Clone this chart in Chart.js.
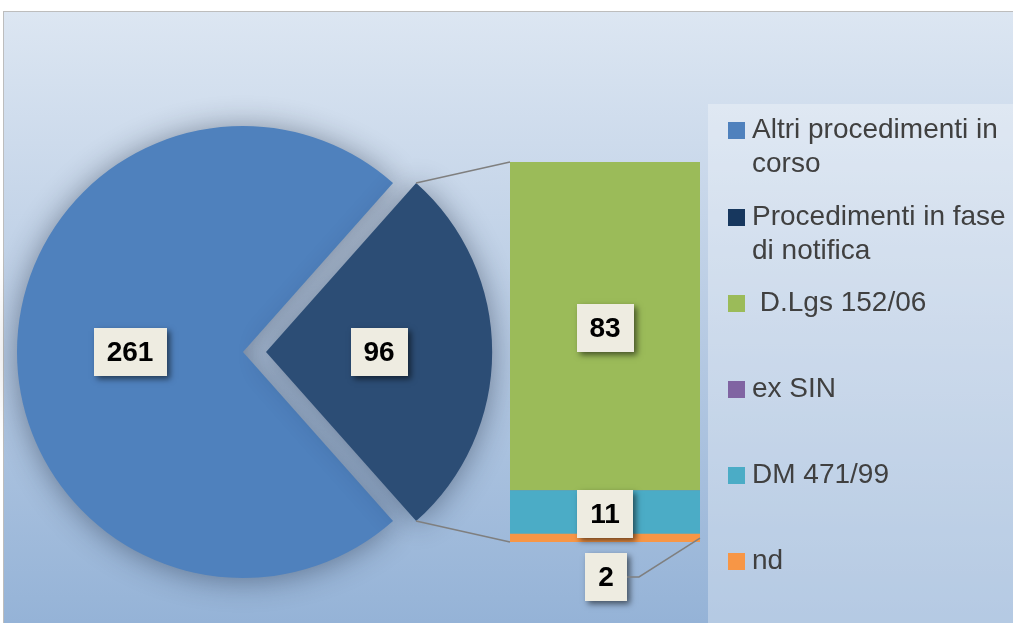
<!DOCTYPE html>
<html>
<head>
<meta charset="utf-8">
<script src="https://cdn.jsdelivr.net/npm/chart.js@4.4.1/dist/chart.umd.min.js"></script>
<style>
  html, body { margin: 0; padding: 0; background: #ffffff; }
  #wrap { position: relative; width: 1013px; height: 623px; overflow: hidden; }
  #frame { position: absolute; left: 3px; top: 11px; right: 0; bottom: 0;
           border-left: 1px solid #BDBDBD; border-top: 1px solid #BDBDBD;
           background: linear-gradient(to bottom, #DCE6F2 0%, #B9CCE4 50%, #95B3D7 100%); }
  #legendBox { position: absolute; left: 708px; top: 104px; right: 0; bottom: 0;
               background: rgba(255,255,255,0.3); }
  canvas { position: absolute; left: 0; top: 0; }
  .item { position: absolute; left: 728px; width: 284px;
          font-family: "Liberation Sans", Arial, sans-serif; font-size: 28px; line-height: 34px; color: #404040; }
  .sq { position: absolute; left: 0; top: 10px; width: 17px; height: 17px; }
  .txt { position: absolute; left: 24px; top: 0; width: 258px; white-space: pre-wrap; }
</style>
</head>
<body>
<div id="wrap">
  <div id="frame"></div>
  <div id="legendBox"></div>
  <canvas id="pie" width="1013" height="623"></canvas>
  <canvas id="bar" width="1013" height="623"></canvas>
  <div id="legend"></div>
</div>
<script>
// ---- data ----
const pieLabels = ['Altri procedimenti in corso', 'Procedimenti in fase di notifica'];
const pieValues = [261, 96];
const pieColors = ['#4F81BD', '#2C4D75'];
const pieLegendColors = ['#4F81BD', '#17375E'];

const barLabels = [' D.Lgs 152/06', 'ex SIN', 'DM 471/99', 'nd'];
const barValues = [83, 0, 11, 2];
const barColors = ['#9BBB59', '#8064A2', '#4BACC6', '#F79646'];

// ---- geometry / style ----
const PIE_R = 226, PIE_CX = 243, PIE_CY = 352, DARK_SHIFT = 23;
const BAR_L = 510, BAR_R = 700, BAR_T = 162, BAR_B = 542;
const W = 1013, H = 623;

const pieTotal = pieValues.reduce((a, b) => a + b, 0);
const darkSpanDeg = pieValues[1] / pieTotal * 360;
// second slice centred on 3 o'clock
const rotationDeg = 90 - (360 - darkSpanDeg / 2);

const pieChart = new Chart(document.getElementById('pie'), {
  type: 'pie',
  data: {
    labels: pieLabels,
    datasets: [{
      data: pieValues,
      backgroundColor: pieColors,
      borderWidth: 0,
      offset: [0, DARK_SHIFT * 4],
      hoverOffset: 0
    }]
  },
  options: {
    responsive: false, animation: false, events: [],
    rotation: rotationDeg,
    radius: PIE_R,
    layout: { padding: { left: PIE_CX - 243, right: W - 2 * PIE_CX, top: 100, bottom: H - (2 * PIE_CY - 100) } },
    plugins: { legend: { display: false }, tooltip: { enabled: false } }
  },
  plugins: [{
    id: 'pieShadow',
    beforeDatasetsDraw(chart) {
      const ctx = chart.ctx;
      ctx.save();
      ctx.shadowColor = 'rgba(20,30,50,0.45)';
      ctx.shadowBlur = 30;
      ctx.shadowOffsetY = 2;
    },
    afterDatasetsDraw(chart) { chart.ctx.restore(); }
  }]
});

// bar stacks bottom-up, so reverse legend order
const stackOrder = barValues.map((v, i) => i).reverse();
const barTotal = barValues.reduce((a, b) => a + b, 0);

function labelBox(ctx, text, cx, cy) {
  ctx.save();
  ctx.font = 'bold 28px "Liberation Sans", Arial, sans-serif';
  const tw = ctx.measureText(text).width;
  const w = Math.round(tw + 26), h = 48;
  const x = Math.round(cx - w / 2), y = Math.round(cy - h / 2);
  ctx.shadowColor = 'rgba(0,0,0,0.55)';
  ctx.shadowBlur = 6;
  ctx.shadowOffsetX = 3;
  ctx.shadowOffsetY = 3;
  ctx.fillStyle = '#EEECE1';
  ctx.fillRect(x, y, w, h);
  ctx.shadowColor = 'transparent';
  ctx.fillStyle = '#000000';
  ctx.textAlign = 'center';
  ctx.textBaseline = 'middle';
  ctx.fillText(text, cx, cy + 1);
  ctx.restore();
  return { x, y, w, h };
}

const barChart = new Chart(document.getElementById('bar'), {
  type: 'bar',
  data: {
    labels: ['dettaglio'],
    datasets: stackOrder.map(i => ({
      label: barLabels[i],
      data: [barValues[i]],
      backgroundColor: barColors[i],
      borderWidth: 0,
      barPercentage: 1,
      categoryPercentage: 1
    }))
  },
  options: {
    responsive: false, animation: false, events: [],
    layout: { padding: { left: BAR_L, right: W - BAR_R, top: BAR_T, bottom: H - BAR_B } },
    scales: {
      x: { stacked: true, display: false },
      y: { stacked: true, display: false, min: 0, max: barTotal }
    },
    plugins: { legend: { display: false }, tooltip: { enabled: false } }
  },
  plugins: [{
    id: 'connectorsAndLabels',
    beforeDatasetsDraw(chart) {
      const ctx = chart.ctx;
      const arc = pieChart.getDatasetMeta(0).data[1];
      const shift = (arc.options.offset || 0) / 4;
      const mid = (arc.startAngle + arc.endAngle) / 2;
      const ox = arc.x + Math.cos(mid) * shift, oy = arc.y + Math.sin(mid) * shift;
      const r = arc.outerRadius;
      const pA = [ox + Math.cos(arc.endAngle) * r, oy + Math.sin(arc.endAngle) * r];
      const pB = [ox + Math.cos(arc.startAngle) * r, oy + Math.sin(arc.startAngle) * r];
      const top = pA[1] < pB[1] ? pA : pB, bot = pA[1] < pB[1] ? pB : pA;
      const area = chart.chartArea;
      ctx.save();
      ctx.strokeStyle = '#7F7F7F';
      ctx.lineWidth = 1.5;
      ctx.beginPath();
      ctx.moveTo(top[0], top[1]); ctx.lineTo(area.left, area.top);
      ctx.moveTo(bot[0], bot[1]); ctx.lineTo(area.left, area.bottom);
      ctx.stroke();
      ctx.restore();
    },
    afterDatasetsDraw(chart) {
      const ctx = chart.ctx;
      // pie labels
      pieChart.getDatasetMeta(0).data.forEach((arc, i) => {
        const shift = (arc.options.offset || 0) / 4;
        const mid = (arc.startAngle + arc.endAngle) / 2;
        const d = shift + arc.outerRadius * 0.5;
        labelBox(ctx, String(pieValues[i]), arc.x + Math.cos(mid) * d, arc.y + Math.sin(mid) * d);
      });
      // bar labels
      chart.data.datasets.forEach((ds, di) => {
        const v = ds.data[0];
        if (!v) return;
        const el = chart.getDatasetMeta(di).data[0];
        const segTop = Math.min(el.y, el.base), segBot = Math.max(el.y, el.base);
        if (segBot - segTop >= 30) {
          labelBox(ctx, String(v), el.x, (segTop + segBot) / 2 + 2);
        } else {
          const b = labelBox(ctx, String(v), el.x + 1, segBot + 35);
          const rx = el.x + el.width / 2;
          ctx.save();
          ctx.strokeStyle = '#7F7F7F';
          ctx.lineWidth = 1.5;
          ctx.beginPath();
          ctx.moveTo(b.x + b.w, b.y + b.h / 2);
          ctx.lineTo(b.x + b.w + 12, b.y + b.h / 2);
          ctx.lineTo(rx, (segTop + segBot) / 2);
          ctx.stroke();
          ctx.restore();
        }
      });
    }
  }]
});

// ---- legend (HTML text) ----
const legendItems = pieLabels.map((t, i) => ({ text: t, color: pieLegendColors[i] }))
  .concat(barLabels.map((t, i) => ({ text: t, color: barColors[i] })));
const legendEl = document.getElementById('legend');
legendItems.forEach((it, i) => {
  const d = document.createElement('div');
  d.className = 'item';
  d.style.top = (112.3 + i * 86.2) + 'px';
  const sq = document.createElement('div');
  sq.className = 'sq';
  sq.style.background = it.color;
  const tx = document.createElement('div');
  tx.className = 'txt';
  tx.textContent = it.text;
  d.appendChild(sq); d.appendChild(tx);
  legendEl.appendChild(d);
});
</script>
</body>
</html>
